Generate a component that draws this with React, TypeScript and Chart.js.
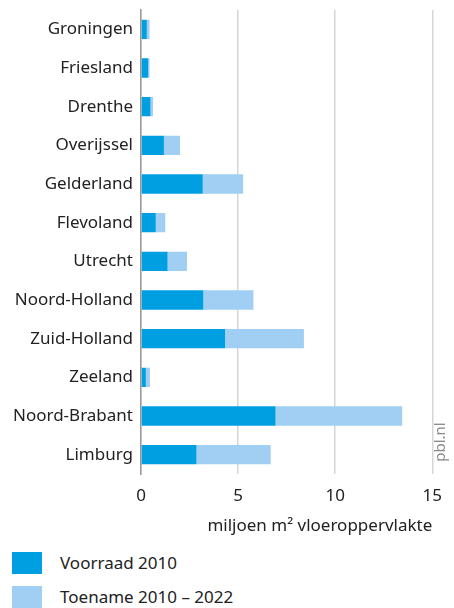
import React, { useEffect, useRef } from "react";
import { Chart, registerables } from "chart.js";

Chart.register(...registerables);

const categories = [
  "Groningen",
  "Friesland",
  "Drenthe",
  "Overijssel",
  "Gelderland",
  "Flevoland",
  "Utrecht",
  "Noord-Holland",
  "Zuid-Holland",
  "Zeeland",
  "Noord-Brabant",
  "Limburg",
];
const voorraad2010 = [0.3, 0.37, 0.49, 1.18, 3.18, 0.76, 1.37, 3.21, 4.33, 0.25, 6.93, 2.86];
const toename20102022 = [0.14, 0.07, 0.13, 0.83, 2.08, 0.49, 1.0, 2.58, 4.06, 0.21, 6.52, 3.82];
const xTicks = [0, 5, 10, 15];

const seriesNames = ["Voorraad 2010", "Toename 2010 – 2022"];
const darkBlue = "#009fe1";
const lightBlue = "#a0cff3";
const FONT = "'Noto Sans', 'Open Sans', sans-serif";

const W = 454;
const H = 545;

const watermark = {
  id: "watermark",
  afterDraw(chart: any) {
    const ctx = chart.ctx;
    ctx.save();
    ctx.translate(441, 442);
    ctx.rotate(-Math.PI / 2);
    ctx.fillStyle = "#8a8a8a";
    ctx.font = `15px ${FONT}`;
    ctx.textAlign = "center";
    ctx.textBaseline = "middle";
    ctx.fillText("pbl.nl", 0, 0);
    ctx.restore();
  },
};

export default function App() {
  const ref = useRef<HTMLCanvasElement>(null);

  useEffect(() => {
    document.body.style.margin = "0";
    const chart = new Chart(ref.current!, {
      type: "bar",
      data: {
        labels: categories,
        datasets: [
          {
            label: seriesNames[0],
            data: voorraad2010,
            backgroundColor: darkBlue,
            barPercentage: 0.5,
            categoryPercentage: 1,
          },
          {
            label: seriesNames[1],
            data: toename20102022,
            backgroundColor: lightBlue,
            barPercentage: 0.5,
            categoryPercentage: 1,
          },
        ],
      },
      options: {
        indexAxis: "y",
        animation: false,
        responsive: false,
        layout: { padding: { top: 10, right: 18, left: 0, bottom: 0 } },
        plugins: {
          legend: { display: false },
          tooltip: { enabled: false },
        },
        scales: {
          x: {
            stacked: true,
            min: 0,
            max: 15,
            afterBuildTicks(scale: any) {
              scale.ticks = xTicks.map((v) => ({ value: v }));
            },
            afterFit(scale: any) {
              scale.height = 71;
            },
            grid: {
              color: "#d6d6d6",
              lineWidth: 1.5,
              drawTicks: false,
            },
            border: { display: false },
            ticks: {
              padding: 12,
              color: "#222",
              font: { family: FONT, size: 17 },
            },
            title: {
              display: true,
              text: "miljoen m² vloeroppervlakte",
              align: "end",
              color: "#222",
              font: { family: FONT, size: 17 },
              padding: { top: 4, bottom: 9 },
            },
          },
          y: {
            stacked: true,
            afterFit(scale: any) {
              scale.width = 141;
              scale.paddingTop = 0;
              scale.paddingBottom = 0;
            },
            grid: { display: false, drawTicks: false },
            border: { display: true, color: "#999", width: 1.5 },
            ticks: {
              padding: 8,
              color: "#222",
              font: { family: FONT, size: 17 },
            },
          },
        },
      },
      plugins: [watermark],
    });
    return () => chart.destroy();
  }, []);

  const legendItem = (name: string, color: string, top: number) => (
    <div
      key={name}
      style={{
        position: "absolute",
        left: 12,
        top,
        height: 22,
        display: "flex",
        alignItems: "center",
      }}
    >
      <div style={{ width: 30, height: 22, background: color }} />
      <span
        style={{
          marginLeft: 18,
          fontFamily: FONT,
          fontSize: 17,
          color: "#222",
          lineHeight: "22px",
          whiteSpace: "nowrap",
        }}
      >
        {name}
      </span>
    </div>
  );

  return (
    <div style={{ position: "relative", width: W, height: 608 }}>
      <canvas ref={ref} width={W} height={H} style={{ display: "block" }} />
      {legendItem(seriesNames[0], darkBlue, 552)}
      {legendItem(seriesNames[1], lightBlue, 586)}
    </div>
  );
}
